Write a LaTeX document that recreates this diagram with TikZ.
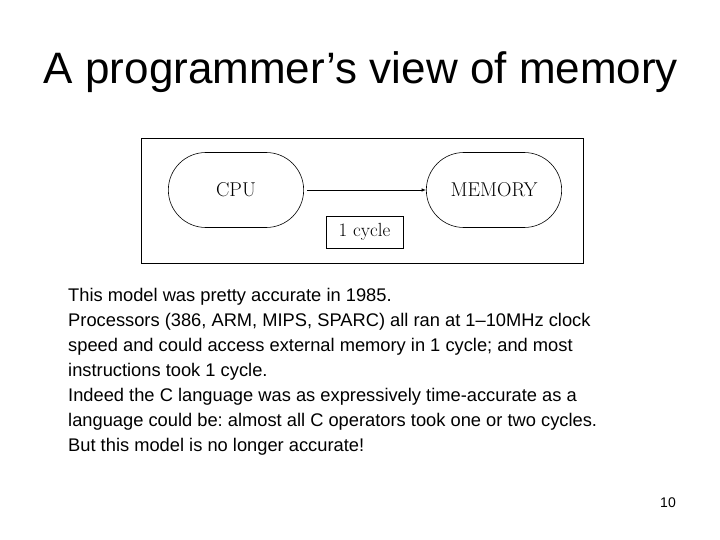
\documentclass[tikz,border=0pt]{standalone}
\usepackage{fontspec}
\usetikzlibrary{shapes.misc}
\setmainfont{Liberation Sans}
\newfontfamily\lmr{Latin Modern Roman}
\frenchspacing
\begin{document}
\begin{tikzpicture}[x=1pt,y=-1pt,
  pill/.style={draw,rounded rectangle,minimum width=142pt,minimum height=75pt,font=\lmr\fontsize{20}{22}\selectfont,line width=0.6pt},
  lbl/.style={draw,font=\lmr\fontsize{19}{22}\selectfont,minimum width=77pt,minimum height=32pt,inner sep=0pt,line width=0.6pt}]
\useasboundingbox (0,0) rectangle (720,540);
\node (title) at (361,72) {\fontsize{44}{48}\selectfont A programmer’s view of memory};
\node (frame) [draw,line width=0.6pt,minimum width=442pt,minimum height=125pt,inner sep=0pt] at (362,201) {};
\node (cpu) [pill] at (236,190) {CPU};
\node (mem) [pill] at (494,190) {MEMORY};
\node (cyc) [lbl] at (364.5,232) {1 cycle};
\draw[-latex,line width=0.5pt] (cpu.east) ++(3,0) -- (mem.west);
\node (body) [anchor=north west,align=left,inner sep=0pt,font=\fontsize{18.3}{25}\selectfont] at (68,288) {This model was pretty accurate in 1985.\\
Processors (386, ARM, MIPS, SPARC) all ran at 1--10MHz clock\\
speed and could access external memory in 1 cycle; and most\\
instructions took 1 cycle.\\
Indeed the C language was as expressively time-accurate as a\\
language could be: almost all C operators took one or two cycles.\\
But this model is no longer accurate!};
\node (pg) at (668,503) {\fontsize{14}{16}\selectfont 10};
\end{tikzpicture}
\end{document}
